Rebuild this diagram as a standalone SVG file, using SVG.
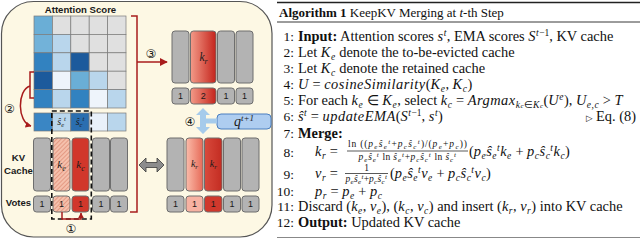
<svg xmlns="http://www.w3.org/2000/svg" width="640" height="241" viewBox="0 0 640 241">
<style>
.lbl{font-family:"Liberation Sans",Arial,sans-serif;font-weight:bold;font-size:9.6px;fill:#1a1a1a}
.num{font-family:"Liberation Sans",Arial,sans-serif;font-size:9px;fill:#1a1a1a;text-anchor:middle}
.circ{font-family:"DejaVu Sans","Noto Sans CJK SC",sans-serif;font-size:12px;fill:#111;text-anchor:middle}
.var{font-family:"Liberation Serif","Times New Roman",serif;font-style:italic;fill:#1a1a1a;text-anchor:middle}
.bar{fill:#b3b3b3;stroke:#6e6e6e;stroke-width:1}
.cell{stroke:#7a7a7a;stroke-width:0.7}
.red{fill:none;stroke:#a81c1c;stroke-width:1.5}
.dash{fill:none;stroke:#111;stroke-width:1.6;stroke-dasharray:5 3}
.alg{font-family:"Liberation Serif","Times New Roman",serif;font-size:14.4px;fill:#111}
.ttl{font-family:"Liberation Serif","Times New Roman",serif;font-size:13px;fill:#111}
.ln{font-family:"Liberation Serif","Times New Roman",serif;font-size:13.5px;fill:#111;text-anchor:end}
.m{font-style:italic;letter-spacing:0.5px}
.b{font-weight:bold}
.sb{font-size:9.5px;baseline-shift:-2.8px}
.sp{font-size:9.5px;baseline-shift:5.5px}
.fr{font-family:"Liberation Serif","Times New Roman",serif;font-size:9.5px;fill:#111;text-anchor:middle}
.fsb{font-size:7px;baseline-shift:-1.8px}
.fsp{font-size:7px;baseline-shift:3.5px}
</style>
<defs>
<pattern id="hatch" width="3" height="3" patternUnits="userSpaceOnUse" patternTransform="rotate(45)">
<rect width="3" height="3" fill="#f5c0ac"/>
<line x1="0.5" y1="0" x2="0.5" y2="3" stroke="#e49a84" stroke-width="1"/>
</pattern>
<linearGradient id="gr1" x1="0" y1="0" x2="1" y2="0">
<stop offset="0" stop-color="#f39a88"/><stop offset="1" stop-color="#c4241c"/>
</linearGradient>
<linearGradient id="gr2" x1="0" y1="0" x2="1" y2="0">
<stop offset="0" stop-color="#fbbcaa"/><stop offset="1" stop-color="#e66a58"/>
</linearGradient>
<linearGradient id="gr3" x1="0" y1="0" x2="1" y2="0">
<stop offset="0" stop-color="#d84a3c"/><stop offset="1" stop-color="#c32c22"/>
</linearGradient>
<marker id="ah" viewBox="0 0 10 10" refX="9" refY="5" markerWidth="6" markerHeight="6" markerUnits="userSpaceOnUse" orient="auto">
<path d="M0,0 L10,5 L0,10 z" fill="#a81c1c"/>
</marker>
<marker id="ah2" viewBox="0 0 10 10" refX="9" refY="5" markerWidth="8" markerHeight="8" markerUnits="userSpaceOnUse" orient="auto">
<path d="M0,0 L10,5 L0,10 z" fill="#a81c1c"/>
</marker>
</defs>

<!-- panel -->
<rect x="1.5" y="1.5" width="270.5" height="235.5" rx="32" fill="#fdf8e4" stroke="#555" stroke-width="1.2"/>

<g id="attention-score">
<text class="lbl" x="80.5" y="12.5" text-anchor="middle" font-size="9.8">Attention Score</text>
<rect class="cell" x="34" y="16" width="18.4" height="18.4" fill="#6aaed6"/>
<rect class="cell" x="52.4" y="16" width="18.4" height="18.4" fill="#e0e0e0"/>
<rect class="cell" x="70.8" y="16" width="18.4" height="18.4" fill="#e0e0e0"/>
<rect class="cell" x="89.2" y="16" width="18.4" height="18.4" fill="#e0e0e0"/>
<rect class="cell" x="107.6" y="16" width="18.4" height="18.4" fill="#e0e0e0"/>
<rect class="cell" x="34" y="34.4" width="18.4" height="18.4" fill="#72b2d9"/>
<rect class="cell" x="52.4" y="34.4" width="18.4" height="18.4" fill="#b9d6ec"/>
<rect class="cell" x="70.8" y="34.4" width="18.4" height="18.4" fill="#e0e0e0"/>
<rect class="cell" x="89.2" y="34.4" width="18.4" height="18.4" fill="#e0e0e0"/>
<rect class="cell" x="107.6" y="34.4" width="18.4" height="18.4" fill="#e0e0e0"/>
<rect class="cell" x="34" y="52.8" width="18.4" height="18.4" fill="#3282c0"/>
<rect class="cell" x="52.4" y="52.8" width="18.4" height="18.4" fill="#b9d6ec"/>
<rect class="cell" x="70.8" y="52.8" width="18.4" height="18.4" fill="#1c5a9c"/>
<rect class="cell" x="89.2" y="52.8" width="18.4" height="18.4" fill="#e0e0e0"/>
<rect class="cell" x="107.6" y="52.8" width="18.4" height="18.4" fill="#e0e0e0"/>
<rect class="cell" x="34" y="71.2" width="18.4" height="18.4" fill="#1c5a9c"/>
<rect class="cell" x="52.4" y="71.2" width="18.4" height="18.4" fill="#eef4fb"/>
<rect class="cell" x="70.8" y="71.2" width="18.4" height="18.4" fill="#6aaed6"/>
<rect class="cell" x="89.2" y="71.2" width="18.4" height="18.4" fill="#b9d6ec"/>
<rect class="cell" x="107.6" y="71.2" width="18.4" height="18.4" fill="#e0e0e0"/>
<rect class="cell" x="34" y="89.6" width="18.4" height="18.4" fill="#3282c0"/>
<rect class="cell" x="52.4" y="89.6" width="18.4" height="18.4" fill="#b9d6ec"/>
<rect class="cell" x="70.8" y="89.6" width="18.4" height="18.4" fill="#3282c0"/>
<rect class="cell" x="89.2" y="89.6" width="18.4" height="18.4" fill="#eef4fb"/>
<rect class="cell" x="107.6" y="89.6" width="18.4" height="18.4" fill="#b9d6ec"/>
</g>

<g id="score-row">
<rect class="cell" x="34" y="113" width="18.4" height="18" fill="#3a86c4"/>
<rect class="cell" x="52.4" y="113" width="18.4" height="18" fill="#b9d6ec"/>
<rect class="cell" x="70.8" y="113" width="18.4" height="18" fill="#2a6eb0"/>
<rect class="cell" x="89.2" y="113" width="18.4" height="18" fill="#e9f1fa"/>
<rect class="cell" x="107.6" y="113" width="18.4" height="18" fill="#b9d6ec"/>
<text class="var" x="61.6" y="125" font-size="10">ŝ<tspan font-size="6.5" baseline-shift="-2">e</tspan><tspan font-size="6.5" baseline-shift="4">t</tspan></text>
<text class="var" x="80" y="125" font-size="10">ŝ<tspan font-size="6.5" baseline-shift="-2">c</tspan><tspan font-size="6.5" baseline-shift="4">t</tspan></text>
</g>

<g id="kv-cache">
<text class="lbl" x="18.5" y="161" text-anchor="middle">KV</text>
<text class="lbl" x="18.5" y="174" text-anchor="middle">Cache</text>
<rect class="bar" x="33.5" y="138" width="17" height="53" rx="3"/>
<rect class="bar" x="53" y="138" width="17" height="53" rx="3" style="fill:url(#hatch)"/>
<rect class="bar" x="72" y="138" width="17" height="53" rx="3" style="fill:#d1372b"/>
<rect class="bar" x="92.5" y="138" width="17" height="53" rx="3"/>
<rect class="bar" x="110.5" y="138" width="17" height="53" rx="3"/>
<text class="var" x="61.5" y="168" font-size="11">k<tspan font-size="8" baseline-shift="-2.5">e</tspan></text>
<text class="var" x="80.5" y="168" font-size="11">k<tspan font-size="8" baseline-shift="-2.5">c</tspan></text>
</g>

<g id="votes">
<text class="lbl" x="18.5" y="206" text-anchor="middle">Votes</text>
<rect class="bar" x="33.5" y="196" width="17" height="16" rx="3"/>
<rect class="bar" x="53" y="196" width="17" height="16" rx="3" style="fill:url(#hatch)"/>
<rect class="bar" x="72" y="196" width="17" height="16" rx="3" style="fill:#d1372b"/>
<rect class="bar" x="92.5" y="196" width="17" height="16" rx="3"/>
<rect class="bar" x="110.5" y="196" width="17" height="16" rx="3"/>
<text class="num" x="42" y="207.3">1</text>
<text class="num" x="61.5" y="207.3">1</text>
<text class="num" x="80.5" y="207.3">1</text>
<text class="num" x="101" y="207.3">1</text>
<text class="num" x="119" y="207.3">1</text>
</g>

<g id="merged-cache">
<rect class="bar" x="172" y="31" width="17" height="52" rx="3"/>
<rect class="bar" x="190.5" y="31" width="25.5" height="52" rx="3" style="fill:url(#gr1)"/>
<rect class="bar" x="217.5" y="31" width="17" height="52" rx="3"/>
<rect class="bar" x="236" y="31" width="17" height="52" rx="3"/>
<text class="var" x="203.5" y="61" font-size="11.5">k<tspan font-size="8" baseline-shift="-2.5">r</tspan></text>
<rect class="bar" x="172" y="88" width="17" height="16" rx="3"/>
<rect class="bar" x="190.5" y="88" width="25.5" height="16" rx="3" style="fill:url(#gr1)"/>
<rect class="bar" x="217.5" y="88" width="17" height="16" rx="3"/>
<rect class="bar" x="236" y="88" width="17" height="16" rx="3"/>
<text class="num" x="180.5" y="99.3">1</text>
<text class="num" x="203.3" y="99.3">2</text>
<text class="num" x="226" y="99.3">1</text>
<text class="num" x="244.5" y="99.3">1</text>
</g>

<g id="query">
<rect x="217" y="114" width="54" height="15" rx="4" fill="#aecdf0" stroke="#4a7fc0" stroke-width="1"/>
<text class="var" x="244" y="126" font-size="14">q<tspan font-size="9" baseline-shift="5">t+1</tspan></text>
</g>

<g id="updated-cache">
<rect class="bar" x="167" y="138" width="17" height="53" rx="3"/>
<rect class="bar" x="186" y="138" width="17" height="53" rx="3" style="fill:url(#gr2)"/>
<rect class="bar" x="204.5" y="138" width="17.5" height="53" rx="3" style="fill:url(#gr3)"/>
<rect class="bar" x="223.5" y="138" width="17" height="53" rx="3"/>
<rect class="bar" x="242" y="138" width="17" height="53" rx="3"/>
<text class="var" x="194.5" y="167" font-size="10">k<tspan font-size="7" baseline-shift="-2">r</tspan></text>
<text class="var" x="213.3" y="167" font-size="10">k<tspan font-size="7" baseline-shift="-2">r</tspan></text>
<rect class="bar" x="167" y="196" width="17" height="16" rx="3"/>
<rect class="bar" x="186" y="196" width="17" height="16" rx="3" style="fill:#f7b2a2"/>
<rect class="bar" x="204.5" y="196" width="17.5" height="16" rx="3" style="fill:#d0382c"/>
<rect class="bar" x="223.5" y="196" width="17" height="16" rx="3"/>
<rect class="bar" x="242" y="196" width="17" height="16" rx="3"/>
<text class="num" x="175.5" y="207.3">1</text>
<text class="num" x="194.5" y="207.3">1</text>
<text class="num" x="213.3" y="207.3">1</text>
<text class="num" x="232" y="207.3">1</text>
<text class="num" x="250.5" y="207.3">1</text>
</g>

<g id="connectors">
<rect class="dash" x="51.8" y="111" width="39.5" height="108"/>
<path class="red" d="M34,72 H30 V98 H34"/>
<path class="red" d="M30,86 C17,90 17,122 31,126" marker-end="url(#ah)"/>
<path class="red" d="M62,212 V219 H81 V213" marker-end="url(#ah)"/>
<path class="red" d="M131,16 H137 V212 H130"/>
<path class="red" d="M137,62 H167" stroke-width="2.4" marker-end="url(#ah2)"/>
<polygon points="139,165 146,158 146,162.5 157,162.5 157,158 164,165 157,172 157,167.5 146,167.5 146,172" fill="#8c8c8c" stroke="#3a3a3a" stroke-width="0.8"/>
<polygon points="203,108 210,115 206,115 206,118.5 217,118.5 217,123.5 206,123.5 206,127 210,127 203,134 196,127 200,127 200,115 196,115" fill="#a6cbeb"/>
<text class="circ" x="71" y="233">①</text>
<text class="circ" x="9.5" y="112.5">②</text>
<text class="circ" x="151" y="57.5">③</text>
<text class="circ" x="190" y="125.5">④</text>
</g>

<g id="algorithm">
<line x1="277" y1="2.5" x2="640" y2="2.5" stroke="#222" stroke-width="1.4"/>
<line x1="277" y1="22" x2="640" y2="22" stroke="#222" stroke-width="0.9"/>
<line x1="277" y1="237.5" x2="640" y2="237.5" stroke="#888" stroke-width="1.2"/>
<text class="ttl" x="279" y="16.5"><tspan class="b">Algorithm 1</tspan> KeepKV Merging at <tspan font-style="italic">t</tspan>-th Step</text>

<text class="ln" x="294" y="41">1:</text>
<text class="alg" x="298" y="41"><tspan class="b">Input:</tspan> Attention scores <tspan class="m">s</tspan><tspan class="m sp">t</tspan>, EMA scores <tspan class="m">S</tspan><tspan class="sp"><tspan class="m">t</tspan>−1</tspan>, KV cache</text>

<text class="ln" x="294" y="57">2:</text>
<text class="alg" x="298" y="57">Let <tspan class="m">K</tspan><tspan class="m sb">e</tspan> denote the to-be-evicted cache</text>

<text class="ln" x="294" y="73">3:</text>
<text class="alg" x="298" y="73">Let <tspan class="m">K</tspan><tspan class="m sb">c</tspan> denote the retained cache</text>

<text class="ln" x="294" y="89">4:</text>
<text class="alg" x="298" y="89"><tspan class="m">U</tspan> = <tspan class="m">cosineSimilarity</tspan>(<tspan class="m">K</tspan><tspan class="m sb">e</tspan>, <tspan class="m">K</tspan><tspan class="m sb">c</tspan>)</text>

<text class="ln" x="294" y="105">5:</text>
<text class="alg" x="298" y="105">For each <tspan class="m">k</tspan><tspan class="m sb">e</tspan> ∈ <tspan class="m">K</tspan><tspan class="m sb">e</tspan>, select <tspan class="m">k</tspan><tspan class="m sb">c</tspan> = <tspan class="m">Argmax</tspan><tspan class="sb"><tspan class="m">k</tspan><tspan class="m" font-size="7">c</tspan>∈<tspan class="m">K</tspan><tspan class="m" font-size="7">c</tspan></tspan>(<tspan class="m">U</tspan><tspan class="m sp">e</tspan>), <tspan class="m">U</tspan><tspan class="m sb">e,c</tspan> &gt; <tspan class="m">T</tspan></text>

<text class="ln" x="294" y="121">6:</text>
<text class="alg" x="298" y="121"><tspan class="m">ŝ</tspan><tspan class="m sp">t</tspan> = <tspan class="m">updateEMA</tspan>(<tspan class="m">S</tspan><tspan class="sp"><tspan class="m">t</tspan>−1</tspan>, <tspan class="m">s</tspan><tspan class="m sp">t</tspan>)</text>
<text class="alg" x="636" y="121" text-anchor="end"><tspan font-family="DejaVu Sans" font-size="8.5">▷</tspan> Eq. (8)</text>

<text class="ln" x="294" y="138">7:</text>
<text class="alg b" x="298" y="138">Merge:</text>

<text class="ln" x="294" y="157">8:</text>
<text class="alg" x="315" y="155.5"><tspan class="m">k</tspan><tspan class="m sb">r</tspan> =</text>
<text class="fr" x="407.5" y="147" textLength="119" lengthAdjust="spacing">ln ((<tspan class="m">p</tspan><tspan class="m fsb">e</tspan><tspan class="m">ŝ</tspan><tspan class="m fsb">e</tspan><tspan class="m fsp">t</tspan>+<tspan class="m">p</tspan><tspan class="m fsb">c</tspan><tspan class="m">ŝ</tspan><tspan class="m fsb">c</tspan><tspan class="m fsp">t</tspan>)/(<tspan class="m">p</tspan><tspan class="m fsb">e</tspan>+<tspan class="m">p</tspan><tspan class="m fsb">c</tspan>))</text>
<line x1="347" y1="151" x2="468" y2="151" stroke="#111" stroke-width="0.7"/>
<text class="fr" x="407.5" y="160" textLength="98" lengthAdjust="spacing"><tspan class="m">p</tspan><tspan class="m fsb">e</tspan><tspan class="m">ŝ</tspan><tspan class="m fsb">e</tspan><tspan class="m fsp">t</tspan> ln <tspan class="m">ŝ</tspan><tspan class="m fsb">e</tspan><tspan class="m fsp">t</tspan>+<tspan class="m">p</tspan><tspan class="m fsb">c</tspan><tspan class="m">ŝ</tspan><tspan class="m fsb">c</tspan><tspan class="m fsp">t</tspan> ln <tspan class="m">ŝ</tspan><tspan class="m fsb">c</tspan><tspan class="m fsp">t</tspan></text>
<text class="alg" x="469" y="155.5">(<tspan class="m">p</tspan><tspan class="m sb">e</tspan><tspan class="m">ŝ</tspan><tspan class="m sb">e</tspan><tspan class="m sp">t</tspan><tspan class="m">k</tspan><tspan class="m sb">e</tspan> + <tspan class="m">p</tspan><tspan class="m sb">c</tspan><tspan class="m">ŝ</tspan><tspan class="m sb">c</tspan><tspan class="m sp">t</tspan><tspan class="m">k</tspan><tspan class="m sb">c</tspan>)</text>

<text class="ln" x="294" y="179">9:</text>
<text class="alg" x="315" y="178"><tspan class="m">v</tspan><tspan class="m sb">r</tspan> =</text>
<text class="fr" x="366.5" y="170.5">1</text>
<line x1="345" y1="173.5" x2="388" y2="173.5" stroke="#111" stroke-width="0.7"/>
<text class="fr" x="366.5" y="181.5" textLength="42" lengthAdjust="spacing"><tspan class="m">p</tspan><tspan class="m fsb">e</tspan><tspan class="m">ŝ</tspan><tspan class="m fsb">e</tspan><tspan class="m fsp">t</tspan>+<tspan class="m">p</tspan><tspan class="m fsb">c</tspan><tspan class="m">ŝ</tspan><tspan class="m fsb">c</tspan><tspan class="m fsp">t</tspan></text>
<text class="alg" x="390" y="178">(<tspan class="m">p</tspan><tspan class="m sb">e</tspan><tspan class="m">ŝ</tspan><tspan class="m sb">e</tspan><tspan class="m sp">t</tspan><tspan class="m">v</tspan><tspan class="m sb">e</tspan> + <tspan class="m">p</tspan><tspan class="m sb">c</tspan><tspan class="m">ŝ</tspan><tspan class="m sb">c</tspan><tspan class="m sp">t</tspan><tspan class="m">v</tspan><tspan class="m sb">c</tspan>)</text>

<text class="ln" x="294" y="195.5">10:</text>
<text class="alg" x="315" y="195.5"><tspan class="m">p</tspan><tspan class="m sb">r</tspan> = <tspan class="m">p</tspan><tspan class="m sb">e</tspan> + <tspan class="m">p</tspan><tspan class="m sb">c</tspan></text>

<text class="ln" x="294" y="211">11:</text>
<text class="alg" x="298" y="211">Discard (<tspan class="m">k</tspan><tspan class="m sb">e</tspan>, <tspan class="m">v</tspan><tspan class="m sb">e</tspan>), (<tspan class="m">k</tspan><tspan class="m sb">c</tspan>, <tspan class="m">v</tspan><tspan class="m sb">c</tspan>) and insert (<tspan class="m">k</tspan><tspan class="m sb">r</tspan>, <tspan class="m">v</tspan><tspan class="m sb">r</tspan>) into KV cache</text>

<text class="ln" x="294" y="226.5">12:</text>
<text class="alg" x="298" y="226.5"><tspan class="b">Output:</tspan> Updated KV cache</text>
</g>
</svg>
